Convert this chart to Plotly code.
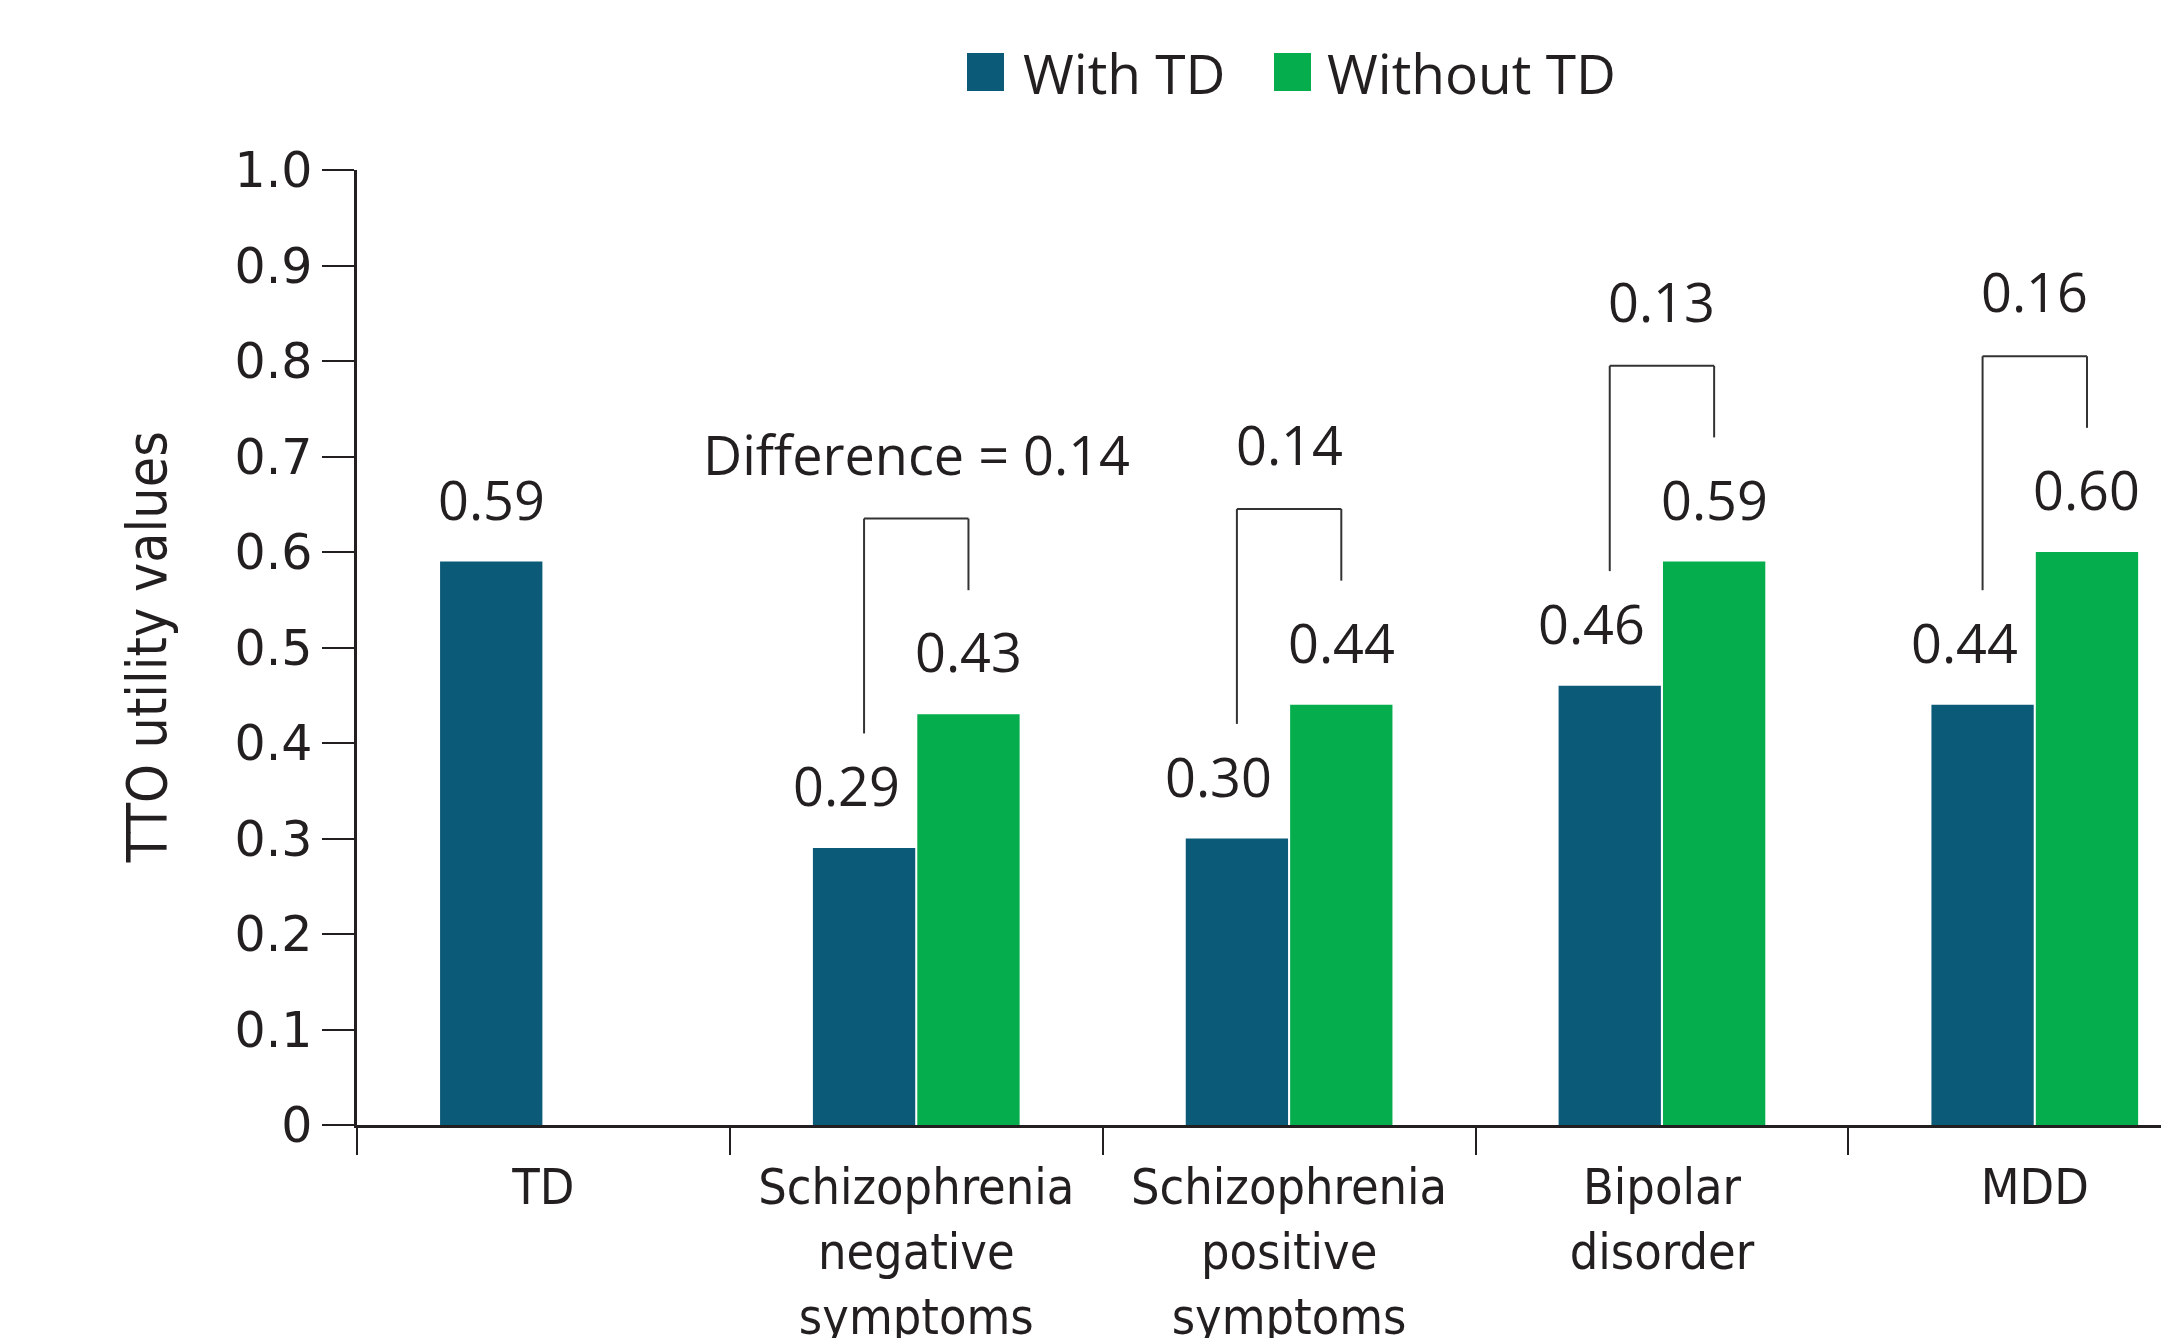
import plotly.graph_objects as go

categories = ["TD", "Schizophrenia<br>negative<br>symptoms", "Schizophrenia<br>positive<br>symptoms",
              "Bipolar<br>disorder", "MDD"]
with_td = [0.59, 0.29, 0.30, 0.46, 0.44]
without_td = [None, 0.43, 0.44, 0.59, 0.60]
differences = [None, 0.14, 0.14, 0.13, 0.16]
diff_prefix = ["", "Difference = ", "", "", ""]
y_tickvals = [0, 0.1, 0.2, 0.3, 0.4, 0.5, 0.6, 0.7, 0.8, 0.9, 1.0]
y_ticktext = ["0", "0.1", "0.2", "0.3", "0.4", "0.5", "0.6", "0.7", "0.8", "0.9", "1.0"]

BLUE = "#0b5a78"
GREEN = "#05ad4c"
INK = "#231f20"
BARGAP = 0.44
OFF = (1 - BARGAP) / 4

W, H = 2169, 1338
PAGE_PAD = 8  # default body margin of the html page
ML, MR, MT = 357 - PAGE_PAD, PAGE_PAD, 170 - PAGE_PAD
PW, PH = W - ML - MR, 955
MB = H - MT - PH

label_font = dict(family="Open Sans, Noto Sans, sans-serif", size=54, color=INK)
narrow_font = dict(family="Liberation Sans Narrow, DejaVu Sans Condensed, sans-serif", size=50, color=INK)

fig = go.Figure()
fig.add_trace(go.Bar(name="With TD", x=categories, y=with_td, marker=dict(color=BLUE, line=dict(width=0)),
                     showlegend=False))
fig.add_trace(go.Bar(name="Without TD", x=categories, y=without_td, marker=dict(color=GREEN, line=dict(width=0)),
                     showlegend=False))

annotations = []
shapes = []

# helpers converting screen pixel positions to paper coordinates
def px_x(px):
    return (px - PAGE_PAD - ML) / PW

def px_y(py):
    return (MT + PH + PAGE_PAD - py) / PH

for i, cat in enumerate(categories):
    has_pair = without_td[i] is not None
    v = with_td[i]
    annotations.append(dict(x=i - OFF, y=v, xref="x", yref="y", text=f"{v:.2f}", showarrow=False,
                            font=label_font, xanchor="center", yanchor="middle", yshift=63,
                            xshift=-18 if has_pair else 0))
    if has_pair:
        w = without_td[i]
        annotations.append(dict(x=i + OFF, y=w, xref="x", yref="y", text=f"{w:.2f}", showarrow=False,
                                font=label_font, xanchor="center", yanchor="middle", yshift=63))
        top = w + 0.205
        lb = v + 0.12
        rb = w + 0.13
        line = dict(color="#333333", width=2)
        shapes.append(dict(type="line", xref="x", yref="y", x0=i - OFF, x1=i - OFF, y0=lb, y1=top, line=line))
        shapes.append(dict(type="line", xref="x", yref="y", x0=i - OFF, x1=i + OFF, y0=top, y1=top, line=line))
        shapes.append(dict(type="line", xref="x", yref="y", x0=i + OFF, x1=i + OFF, y0=top, y1=rb, line=line))
        annotations.append(dict(x=i, y=top, xref="x", yref="y", text=f"{diff_prefix[i]}{differences[i]:.2f}",
                                showarrow=False, font=label_font, xanchor="center", yanchor="middle", yshift=65))

# y-axis title
annotations.append(dict(x=px_x(146), y=0.5, xref="paper", yref="paper", text="TTO utility values",
                        textangle=-90, showarrow=False,
                        font=dict(family=narrow_font["family"], size=55, color=INK),
                        xanchor="center", yanchor="middle"))

# custom legend
legend_items = [("With TD", BLUE, 967, 1021), ("Without TD", GREEN, 1274, 1325)]
for name, col, sx, tx in legend_items:
    shapes.append(dict(type="rect", xref="paper", yref="paper", x0=px_x(sx), x1=px_x(sx + 37),
                       y0=px_y(91), y1=px_y(53), fillcolor=col, line=dict(width=0)))
    annotations.append(dict(x=px_x(tx), y=px_y(72), xref="paper", yref="paper", text=name, showarrow=False,
                            font=dict(family="Open Sans, Noto Sans, sans-serif", size=55, color=INK),
                            xanchor="left", yanchor="middle"))

fig.update_layout(
    width=W, height=H,
    margin=dict(l=ML, r=MR, t=MT, b=MB, autoexpand=False),
    paper_bgcolor="white", plot_bgcolor="white",
    barmode="group", bargap=BARGAP, bargroupgap=0.02,
    annotations=annotations, shapes=shapes,
    showlegend=False,
)
fig.update_xaxes(
    type="category", range=[-0.5, 4.36], automargin=False,
    showline=True, linecolor=INK, linewidth=2.5,
    ticks="outside", tickson="boundaries", ticklen=27, tickwidth=2, tickcolor=INK,
    ticklabelstandoff=16,
    tickfont=narrow_font, showgrid=False, zeroline=False,
)
fig.update_yaxes(
    range=[0, 1.0], tickvals=y_tickvals, ticktext=y_ticktext, automargin=False,
    showline=True, linecolor=INK, linewidth=2.5,
    ticks="outside", ticklen=32, tickwidth=2, tickcolor=INK,
    tickfont=dict(family="DejaVu Sans, sans-serif", size=49, color=INK),
    showgrid=False, zeroline=False,
)

fig.write_html("out.html")
